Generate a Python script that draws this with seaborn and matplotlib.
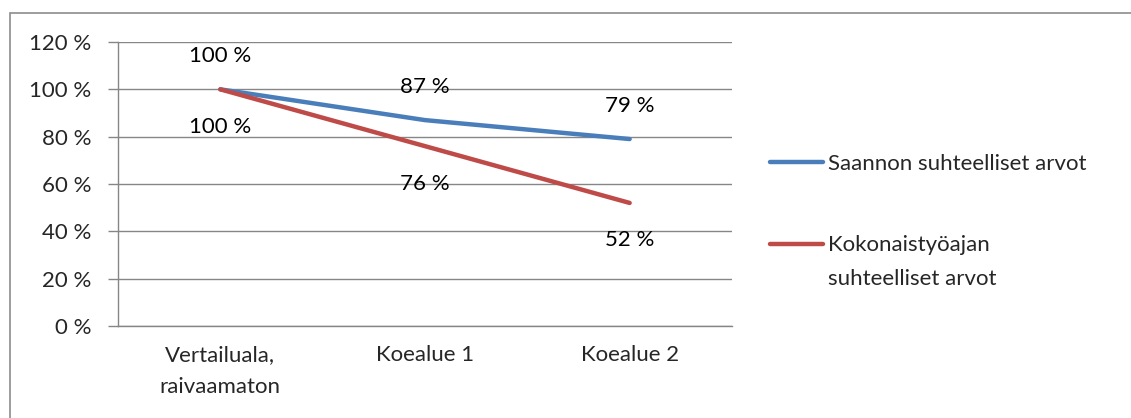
import matplotlib
matplotlib.use("Agg")
import matplotlib.pyplot as plt
import seaborn as sns
import pandas as pd
from matplotlib.patches import Rectangle

categories = ["Vertailuala,\nraivaamaton", "Koealue 1", "Koealue 2"]
saanto = [100, 87, 79]
tyoaika = [100, 76, 52]
series_names = ["Saannon suhteelliset arvot", "Kokonaistyöajan", "suhteelliset arvot"]
colors = ["#4A7EBB", "#BE4B48"]

df = pd.DataFrame({
    "x": list(range(3)) * 2,
    "arvo": saanto + tyoaika,
    "sarja": ["saanto"] * 3 + ["tyoaika"] * 3,
})

sns.set_style("white")
plt.rcParams["font.family"] = ["Lato", "DejaVu Sans"]
FS = 16

fig = plt.figure(figsize=(11.31, 4.18), dpi=100)
ax = fig.add_axes([0.1043, 0.2201, 0.5429, 0.6794])

sns.lineplot(data=df, x="x", y="arvo", hue="sarja", palette=colors, linewidth=3.2,
             ax=ax, legend=False, solid_capstyle="round")

# data labels: blue above, red below
for i, v in enumerate(saanto):
    ax.annotate(f"{v} %", (i, v), xytext=(0, 24), textcoords="offset points",
                ha="center", va="center", fontsize=FS, color="black")
for i, v in enumerate(tyoaika):
    ax.annotate(f"{v} %", (i, v), xytext=(0, -27), textcoords="offset points",
                ha="center", va="center", fontsize=FS, color="black")

ax.set_xlim(-0.5, 2.5)
ax.set_ylim(0, 120)
ax.set_yticks(range(0, 121, 20))
ax.set_yticklabels([f"{t} %" for t in range(0, 121, 20)], fontsize=FS)
ax.set_xticks(range(3))
ax.set_xticklabels(categories, fontsize=FS, linespacing=1.75, va="top")
ax.set_xticks([-0.5, 0.5, 1.5, 2.5], minor=True)
ax.tick_params(axis="x", which="major", length=0, pad=14)
ax.tick_params(axis="x", which="minor", length=7, color="#868686", width=1)
ax.tick_params(axis="y", length=7, color="#868686", width=1, left=True, pad=12)
ax.set_xlabel("")
ax.set_ylabel("")
ax.grid(axis="y", color="#868686", linewidth=1)
ax.set_axisbelow(True)
for s in ["top", "right"]:
    ax.spines[s].set_visible(False)
for s in ["left", "bottom"]:
    ax.spines[s].set_color("#868686")
    ax.spines[s].set_linewidth(1)

# legend: red entry's handle sits on its first text line
handles = [plt.Line2D([], [], color=c, linewidth=3.2, solid_capstyle="round") for c in colors]
leg = fig.legend(handles, series_names[:2], loc="upper left", bbox_to_anchor=(0.671, 0.659),
                 frameon=False, fontsize=FS, handlelength=2.4, handletextpad=0.2,
                 labelspacing=2.78, borderpad=0)
fig.canvas.draw()
r = fig.canvas.get_renderer()
bb = leg.get_texts()[1].get_window_extent(r)
x0 = bb.x0 / fig.bbox.width
yc = (bb.y0 + bb.y1) / 2 / fig.bbox.height - 34 / 418
fig.text(x0, yc, series_names[2], fontsize=FS, va="center", ha="left")

# outer chart border
fig.patches.append(Rectangle((10 / 1131, -0.1), 1.2, (418 - 13) / 418 + 0.1,
                             transform=fig.transFigure, fill=False,
                             edgecolor="#8c8c8c", linewidth=1.2))

fig.savefig("out.png", dpi=100)
